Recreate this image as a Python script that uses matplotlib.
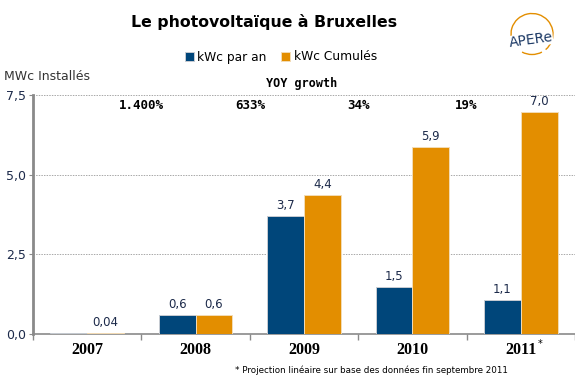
import matplotlib.pyplot as plt
import matplotlib.patches as mpatches
import numpy as np

years = ['2007', '2008', '2009', '2010', '2011']
kwc_par_an = [0.04, 0.6, 3.71, 1.48, 1.07]
kwc_cumules = [0.04, 0.6, 4.37, 5.88, 6.98]
labels_an = ['', '0,6', '3,7', '1,5', '1,1']
labels_cum = ['0,04', '0,6', '4,4', '5,9', '7,0']
yoy = ['1.400%', '633%', '34%', '19%']

blue = '#00467a'
orange = '#e38e00'
txt_col = '#1c2a4a'

fig = plt.figure(figsize=(5.75, 3.8), dpi=100)
ax = fig.add_axes([33/575, 1-334/380, 1-33/575, (334-95)/380])

x = np.arange(len(years))
w = 0.34
ax.bar(x - w/2, kwc_par_an, w, color=blue, edgecolor='#c8ccd2', linewidth=0.7, label='kWc par an', zorder=3)
ax.bar(x + w/2, kwc_cumules, w, color=orange, edgecolor='#f3dcb6', linewidth=0.7, label='kWc Cumulés', zorder=3)

for i in range(len(years)):
    if labels_an[i]:
        ax.text(x[i] - w/2, kwc_par_an[i] + 0.12, labels_an[i], ha='center', va='bottom', fontsize=8.5, color=txt_col)
    ax.text(x[i] + w/2, kwc_cumules[i] + 0.12, labels_cum[i], ha='center', va='bottom', fontsize=8.5, color=txt_col)

for i, s in enumerate(yoy):
    ax.text(i + 0.5, 7.36, s, ha='center', va='top', fontsize=9, fontweight='bold', family='DejaVu Sans Mono')

ax.set_xlim(-0.5, 4.5)
ax.set_ylim(0, 7.5)
ax.set_yticks([0, 2.5, 5.0, 7.5])
ax.set_yticklabels(['0,0', '2,5', '5,0', '7,5'], fontsize=9, color=txt_col)
ax.set_xticks(x)
ax.set_xticklabels(years, fontsize=11.5, fontweight='bold', family='Liberation Serif')
ax.set_xticks(np.arange(-0.5, 4.6, 1), minor=True)
ax.tick_params(axis='x', which='major', length=0, pad=6)
ax.tick_params(axis='x', which='minor', length=4, color='#8a8a8a', width=1)
ax.tick_params(axis='y', length=3, color='#8a8a8a', pad=2)

ax.grid(axis='y', color='#a8a8a8', linestyle=(0, (1.5, 1.2)), linewidth=0.7, zorder=0)
ax.spines['top'].set_visible(False)
ax.spines['right'].set_visible(False)
ax.spines['left'].set_color('#8a8a8a')
ax.spines['left'].set_linewidth(2)
ax.spines['bottom'].set_color('#8a8a8a')
ax.spines['bottom'].set_linewidth(1.2)
for sp in ax.spines.values():
    sp.set_clip_on(False)

fig.text(264/575, 1-22/380, 'Le photovoltaïque à Bruxelles', ha='center', va='center', fontsize=11.3, fontweight='bold')
fig.text(4/575, 1-76/380, 'MWc Installés', ha='left', va='center', fontsize=9, color='#333333')
fig.text(302/575, 1-84/380, 'YOY growth', ha='center', va='center', fontsize=8.5, fontweight='bold', family='DejaVu Sans Mono')

fig.legend(loc='center', bbox_to_anchor=(281/575, 1-57/380), ncol=2, frameon=False, fontsize=8.8,
           handlelength=0.7, handleheight=0.7, handletextpad=0.3, columnspacing=1.2)

fig.text(540/575, 1-344/380, '*', ha='center', va='center', fontsize=7)
fig.text(235/575, 1-370/380, '* Projection linéaire sur base des données fin septembre 2011', ha='left', va='center', fontsize=6.3)

# logo
arc = mpatches.Arc((532/575, 1-34/380), 42/575, 41/380, theta1=-60, theta2=200,
                   transform=fig.transFigure, edgecolor=orange, linewidth=1)
fig.patches.append(arc)
arc2 = mpatches.Arc((532/575, 1-34/380), 42/575, 41/380, theta1=250, theta2=290,
                    transform=fig.transFigure, edgecolor=orange, linewidth=1)
fig.patches.append(arc2)
fig.text(531/575, 1-40/380, 'APERe', ha='center', va='center', fontsize=10, color='#1d3a66',
         rotation=8, bbox=dict(facecolor='white', edgecolor='none', pad=0))

fig.savefig('out.png', dpi=100)
